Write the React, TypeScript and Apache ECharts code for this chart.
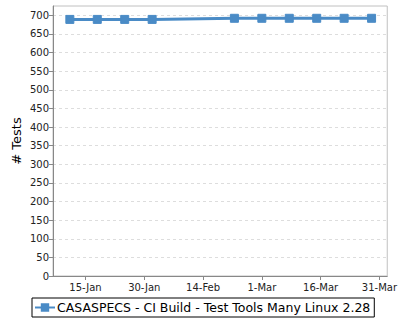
import React, { useEffect, useRef } from "react";
import * as echarts from "echarts";

const seriesName = "CASASPECS - CI Build - Test Tools Many Linux 2.28";
const dates = [
  "2019-01-11", "2019-01-18", "2019-01-25", "2019-02-01",
  "2019-02-22", "2019-03-01", "2019-03-08", "2019-03-15", "2019-03-22", "2019-03-29",
];
const testCounts = [689, 689, 689, 689, 692, 692, 692, 692, 692, 692];
const xTickDays = [15, 30, 45, 60, 75, 90];
const yTicks = [0, 50, 100, 150, 200, 250, 300, 350, 400, 450, 500, 550, 600, 650, 700];
const months = ["Jan", "Feb", "Mar", "Apr", "May", "Jun", "Jul", "Aug", "Sep", "Oct", "Nov", "Dec"];

const YEAR = 2019;
function dayOfYear(s: string): number {
  const [y, m, d] = s.split("-").map(Number);
  const t = Date.UTC(y, m - 1, d) - Date.UTC(YEAR, 0, 0);
  return Math.round(t / 86400000);
}
function dayLabel(v: number): string {
  const dt = new Date(Date.UTC(YEAR, 0, Math.round(v)));
  return `${dt.getUTCDate()}-${months[dt.getUTCMonth()]}`;
}

const FONT = "DejaVu Sans";
const BLUE = "#4a8bc6";

export default function App() {
  const ref = useRef<HTMLDivElement>(null);
  useEffect(() => {
    if (!ref.current) return;
    const chart = echarts.init(ref.current, undefined, { renderer: "svg" });
    const data = dates.map((d, i) => [dayOfYear(d), testCounts[i]]);
    chart.setOption({
      animation: false,
      backgroundColor: "#ffffff",
      textStyle: { fontFamily: FONT },
      grid: {
        left: 53,
        top: 6,
        right: 8,
        bottom: 44,
        show: true,
        borderColor: "#c0c0c0",
        borderWidth: 1,
        backgroundColor: "#ffffff",
      },
      xAxis: {
        type: "value",
        min: 6.7,
        max: 92,
        axisLine: { show: true, lineStyle: { color: "#888888", width: 1 } },
        axisTick: { show: true, length: 4, customValues: xTickDays, lineStyle: { color: "#888888" } },
        axisLabel: {
          customValues: xTickDays,
          formatter: (v: number) => dayLabel(v),
          fontFamily: FONT,
          fontSize: 10,
          color: "#222222",
          margin: 6,
        },
        splitLine: { show: false },
      },
      yAxis: {
        type: "value",
        min: 0,
        max: 725,
        interval: 50,
        name: "# Tests",
        nameLocation: "middle",
        nameGap: 30,
        nameMoveOverlap: false,
        nameTextStyle: { fontFamily: FONT, fontSize: 13, color: "#000000" },
        axisLine: { show: true, lineStyle: { color: "#888888", width: 1 } },
        axisTick: { show: true, length: 4, customValues: yTicks, lineStyle: { color: "#888888" } },
        axisLabel: {
          customValues: yTicks,
          fontFamily: FONT,
          fontSize: 10,
          color: "#222222",
          margin: 4,
        },
        splitLine: { show: true, lineStyle: { color: "#dddddd", type: [3, 3], width: 1 } },
      },
      legend: {
        left: 32,
        top: 298,
        padding: [3, 4, 3, 2],
        borderColor: "#000000",
        borderWidth: 1,
        itemWidth: 20,
        itemHeight: 8,
        itemGap: 4,
        textStyle: { fontFamily: FONT, fontSize: 12.5, color: "#000000", padding: [0, 0, 0, -3] },
        data: [{ name: seriesName }],
      },
      series: [
        {
          type: "line",
          name: seriesName,
          data,
          symbol: "rect",
          symbolSize: 8,
          showAllSymbol: true,
          lineStyle: { color: BLUE, width: 3 },
          itemStyle: { color: BLUE, borderColor: BLUE, borderWidth: 1 },
        },
      ],
    });
    return () => chart.dispose();
  }, []);
  return <div ref={ref} style={{ width: 400, height: 320, position: "absolute", left: 0, top: 0 }} />;
}
